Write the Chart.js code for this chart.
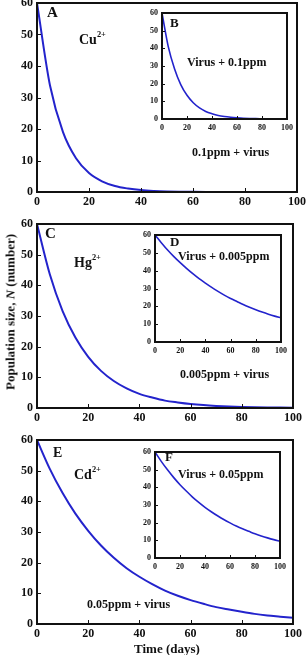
<!DOCTYPE html>
<html>
<head>
<meta charset="utf-8">
<script src="https://cdn.jsdelivr.net/npm/chart.js@4.4.1/dist/chart.umd.min.js"></script>
<style>
  html, body { margin: 0; padding: 0; background: #fff; overflow: hidden; }
  body { width: 307px; height: 655px; position: relative; font-family: "Liberation Serif", "Times New Roman", serif; font-weight: bold; color: #111; }
  canvas { position: absolute; }
  .lbl { position: absolute; line-height: 1; white-space: nowrap; }
  .lbl sup { font-size: 60%; vertical-align: top; position: relative; top: -2px; }
</style>
</head>
<body>
<canvas id="chartA"></canvas>
<canvas id="chartB"></canvas>
<canvas id="chartC"></canvas>
<canvas id="chartD"></canvas>
<canvas id="chartE"></canvas>
<canvas id="chartF"></canvas>

<div class="lbl" style="left:47px;top:5px;font-size:15px;">A</div>
<div class="lbl" style="left:79px;top:33px;font-size:14px;">Cu<sup>2+</sup></div>
<div class="lbl" style="left:170px;top:16px;font-size:13px;">B</div>
<div class="lbl" style="left:187px;top:56px;font-size:12px;">Virus + 0.1ppm</div>
<div class="lbl" style="left:192px;top:146px;font-size:12px;">0.1ppm + virus</div>

<div class="lbl" style="left:45px;top:226px;font-size:15px;">C</div>
<div class="lbl" style="left:74px;top:256px;font-size:14px;">Hg<sup>2+</sup></div>
<div class="lbl" style="left:170px;top:235px;font-size:13px;">D</div>
<div class="lbl" style="left:178px;top:250px;font-size:12px;">Virus + 0.005ppm</div>
<div class="lbl" style="left:180px;top:368px;font-size:12px;">0.005ppm + virus</div>

<div class="lbl" style="left:53px;top:446px;font-size:14px;">E</div>
<div class="lbl" style="left:74px;top:468px;font-size:14px;">Cd<sup>2+</sup></div>
<div class="lbl" style="left:165px;top:450px;font-size:13px;">F</div>
<div class="lbl" style="left:178px;top:468px;font-size:12px;">Virus + 0.05ppm</div>
<div class="lbl" style="left:87px;top:598px;font-size:12px;">0.05ppm + virus</div>

<div class="lbl" style="left:10px;top:312px;font-size:13px;transform:translate(-50%,-50%) rotate(-90deg);">Population size, <i>N</i> (number)</div>
<div class="lbl" style="left:167px;top:648px;font-size:13px;transform:translate(-50%,-50%);">Time (days)</div>

<script>
// time axis (days), shared by all six curves
const days = [0, 5, 10, 15, 20, 25, 30, 35, 40, 45, 50, 55, 60, 65, 70, 75, 80, 85, 90, 95, 100];

// A: Cu2+, 0.1ppm + virus
const cuMetalFirst = [60, 33.8, 19.0, 10.7, 6.0, 3.4, 1.9, 1.1, 0.6, 0.34, 0.19, 0.11, 0.06, 0.03, 0.02, 0.01, 0.01, 0, 0, 0, 0];
// B: Virus + 0.1ppm
const cuVirusFirst = [60, 41, 28.5, 19.5, 13.4, 9.2, 6.3, 4.3, 3.0, 2.0, 1.4, 1.0, 0.7, 0.45, 0.3, 0.2, 0.15, 0.1, 0.07, 0.05, 0.03];
// C: Hg2+, 0.005ppm + virus
const hgMetalFirst = [60, 43.6, 31.6, 23.0, 16.7, 12.1, 8.8, 6.4, 4.6, 3.4, 2.4, 1.8, 1.3, 0.94, 0.68, 0.49, 0.36, 0.26, 0.19, 0.14, 0.1];
// D: Virus + 0.005ppm
const hgVirusFirst = [60, 55.7, 51.6, 47.9, 44.5, 41.3, 38.3, 35.5, 33.0, 30.6, 28.4, 26.3, 24.4, 22.7, 21.0, 19.5, 18.1, 16.8, 15.6, 14.5, 13.5];
// E: Cd2+, 0.05ppm + virus
const cdMetalFirst = [60, 50.6, 42.7, 36.0, 30.4, 25.6, 21.6, 18.2, 15.4, 13.0, 10.9, 9.2, 7.8, 6.6, 5.5, 4.7, 3.96, 3.3, 2.8, 2.4, 2.0];
// F: Virus + 0.05ppm
const cdVirusFirst = [60, 54.7, 49.9, 45.5, 41.5, 37.9, 34.5, 31.5, 28.7, 26.2, 23.9, 21.8, 19.9, 18.1, 16.5, 15.1, 13.7, 12.5, 11.4, 10.4, 9.5];

const lineColor = '#2323cc';

// box frame + inward ticks, like the original plot
const framePlugin = {
  id: 'frame',
  beforeDraw(chart) {
    const a = chart.chartArea, ctx = chart.ctx;
    ctx.save();
    ctx.fillStyle = '#fff';
    ctx.fillRect(a.left, a.top, a.right - a.left, a.bottom - a.top);
    ctx.restore();
  },
  afterDraw(chart) {
    const a = chart.chartArea, ctx = chart.ctx;
    const small = chart.options.small;
    const tl = small ? 3 : 4;
    ctx.save();
    ctx.strokeStyle = '#111';
    ctx.lineWidth = 1;
    ctx.beginPath();
    chart.scales.y.ticks.forEach(t => {
      const py = Math.round(chart.scales.y.getPixelForValue(t.value)) + 0.5;
      ctx.moveTo(a.left, py); ctx.lineTo(a.left + tl, py);
    });
    chart.scales.x.ticks.forEach(t => {
      const px = Math.round(chart.scales.x.getPixelForValue(t.value)) + 0.5;
      ctx.moveTo(px, a.bottom); ctx.lineTo(px, a.bottom - tl);
    });
    ctx.stroke();
    ctx.lineWidth = 2;
    ctx.strokeRect(a.left, a.top, a.right - a.left, a.bottom - a.top);
    ctx.restore();
  }
};

function makePanel(id, plot, values, small) {
  const L = small ? 22 : 37;   // y axis width
  const T = 12, R = 14;
  const B = small ? 16 : 24;   // x axis height
  const canvas = document.getElementById(id);
  const w = plot.right - plot.left + L + R;
  const h = plot.bottom - plot.top + T + B;
  canvas.width = w; canvas.height = h;
  canvas.style.left = (plot.left - L) + 'px';
  canvas.style.top = (plot.top - T) + 'px';
  canvas.style.width = w + 'px';
  canvas.style.height = h + 'px';

  const font = { family: '"Liberation Serif", "Times New Roman", serif', weight: 'bold', size: small ? 8 : 12 };

  return new Chart(canvas.getContext('2d'), {
    type: 'line',
    data: {
      datasets: [{
        data: days.map((d, i) => ({ x: d, y: values[i] })),
        borderColor: lineColor,
        borderWidth: small ? 1.6 : 2,
        pointRadius: 0,
        fill: false,
        cubicInterpolationMode: 'monotone'
      }]
    },
    options: {
      small: small,
      responsive: false,
      animation: false,
      devicePixelRatio: 1,
      layout: { padding: { top: T, right: R, left: 0, bottom: 0 } },
      plugins: { legend: { display: false }, tooltip: { enabled: false } },
      scales: {
        x: {
          type: 'linear', min: 0, max: 100,
          grid: { display: false, drawTicks: false },
          border: { display: false },
          ticks: { stepSize: 20, color: '#111', font: font, padding: small ? 4 : 3, maxRotation: 0 },
          afterFit: s => { s.height = B; }
        },
        y: {
          min: 0, max: 60,
          grid: { display: false, drawTicks: false },
          border: { display: false },
          ticks: { stepSize: 10, color: '#111', font: font, padding: small ? 4 : 4 },
          afterFit: s => { s.width = L; }
        }
      }
    },
    plugins: [framePlugin]
  });
}

makePanel('chartA', { left: 37, top: 3, right: 297, bottom: 192 }, cuMetalFirst, false);
makePanel('chartB', { left: 162, top: 13, right: 287, bottom: 119 }, cuVirusFirst, true);
makePanel('chartC', { left: 37, top: 224, right: 293, bottom: 408 }, hgMetalFirst, false);
makePanel('chartD', { left: 155, top: 235, right: 281, bottom: 342 }, hgVirusFirst, true);
makePanel('chartE', { left: 37, top: 440, right: 293, bottom: 624 }, cdMetalFirst, false);
makePanel('chartF', { left: 155, top: 452, right: 280, bottom: 558 }, cdVirusFirst, true);
</script>
</body>
</html>
